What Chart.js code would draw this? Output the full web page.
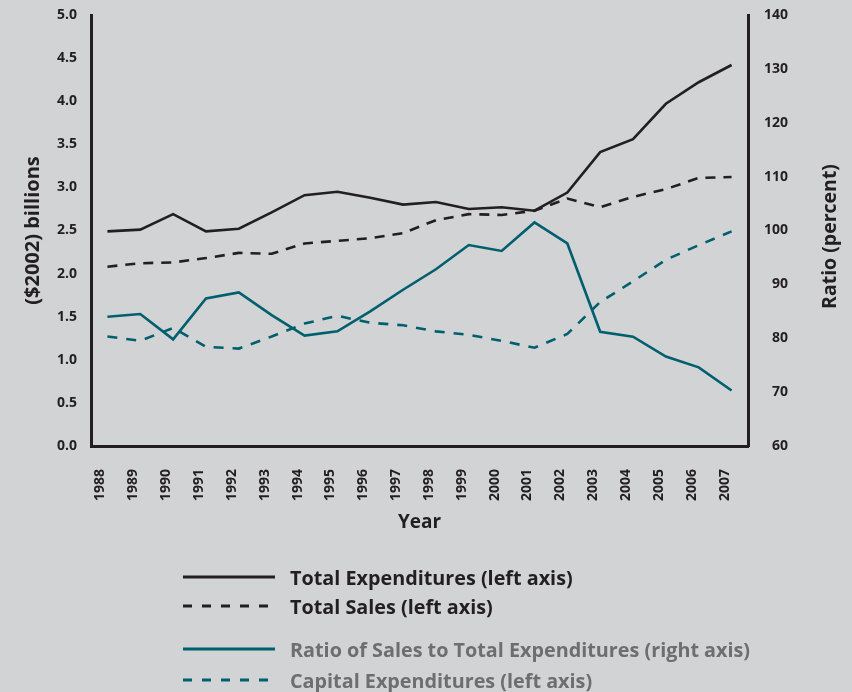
<!DOCTYPE html>
<html><head><meta charset="utf-8">
<script src="https://cdn.jsdelivr.net/npm/chart.js@4/dist/chart.umd.min.js"></script>
<style>
html,body{margin:0;padding:0;background:#d1d3d4;}
#wrap{position:relative;width:852px;height:692px;overflow:hidden;background:#d1d3d4;}
#c{position:absolute;left:0;top:0;}
#legend{position:absolute;left:0;top:0;width:852px;height:692px;pointer-events:none;}
.item{position:absolute;left:183px;height:28px;display:flex;align-items:center;font-family:'Open Sans',sans-serif;font-weight:700;font-size:19.8px;white-space:nowrap;}
.item svg{margin-right:15px;}
</style></head>
<body><div id="wrap"><canvas id="c" width="852" height="692"></canvas><div id="legend"></div></div>
<script>
const years = ['1988','1989','1990','1991','1992','1993','1994','1995','1996','1997','1998','1999','2000','2001','2002','2003','2004','2005','2006','2007'];
const totalExpenditures = [2.49,2.51,2.69,2.49,2.52,2.71,2.91,2.95,2.88,2.80,2.83,2.75,2.77,2.73,2.94,3.41,3.56,3.97,4.22,4.42];
const totalSales = [2.08,2.12,2.13,2.18,2.24,2.23,2.35,2.38,2.41,2.47,2.62,2.69,2.68,2.73,2.87,2.77,2.89,2.98,3.11,3.12];
const salesRatio = [84.0,84.5,79.8,87.4,88.5,84.3,80.5,81.3,85.0,89.0,92.8,97.3,96.2,101.5,97.6,81.2,80.3,76.6,74.6,70.3];
const capitalExpenditures = [1.27,1.22,1.37,1.15,1.13,1.27,1.42,1.51,1.43,1.40,1.33,1.29,1.22,1.14,1.30,1.67,1.91,2.16,2.33,2.49];
const leftTicks = [0,0.5,1,1.5,2,2.5,3,3.5,4,4.5,5];
const rightTicks = [60,70,80,90,100,110,120,130,140];
const seriesNames = ['Total Expenditures (left axis)','Total Sales (left axis)','Ratio of Sales to Total Expenditures (right axis)','Capital Expenditures (left axis)'];
const leftTitle = '($2002) billions';
const rightTitle = 'Ratio (percent)';
const xTitle = 'Year';

const DARK = '#231f20', TEAL = '#005f6e', GREY = '#6d6e71';
const FONT = "'Open Sans', sans-serif";
Chart.defaults.font.family = FONT;
Chart.defaults.font.weight = 'bold';
Chart.defaults.color = DARK;

const styles = [
  {color: DARK, dash: [], axis: 'y'},
  {color: DARK, dash: [10, 8], axis: 'y'},
  {color: TEAL, dash: [], axis: 'y1'},
  {color: TEAL, dash: [10, 9], axis: 'y'}
];
const seriesData = [totalExpenditures, totalSales, salesRatio, capitalExpenditures];

const rightTitlePlugin = {
  id: 'rightTitle',
  afterDraw(chart) {
    const ctx = chart.ctx, a = chart.chartArea;
    ctx.save();
    ctx.translate(830, (a.top + a.bottom) / 2 + 6);
    ctx.rotate(-Math.PI / 2);
    ctx.font = "bold 19.5px " + FONT;
    ctx.fillStyle = DARK;
    ctx.textAlign = 'center';
    ctx.textBaseline = 'middle';
    ctx.fillText(rightTitle, 0, 0);
    ctx.restore();
  }
};

function fitY(width) {
  return s => { s.width = width; s.paddingTop = 0; s.paddingBottom = 0; };
}

new Chart(document.getElementById('c'), {
  type: 'line',
  data: {
    labels: years,
    datasets: seriesData.map((d, i) => ({
      label: seriesNames[i],
      data: d,
      yAxisID: styles[i].axis,
      borderColor: styles[i].color,
      borderDash: styles[i].dash,
      borderWidth: 2.6,
      pointRadius: 0,
      tension: 0,
      fill: false
    }))
  },
  options: {
    responsive: false,
    animation: false,
    devicePixelRatio: 1,
    layout: {padding: {top: 15, left: 0, right: 64, bottom: 146}},
    plugins: {legend: {display: false}, tooltip: {enabled: false}},
    scales: {
      x: {
        type: 'category',
        offset: true,
        grid: {display: false},
        border: {display: true, color: DARK, width: 3},
        ticks: {maxRotation: 90, minRotation: 90, padding: 15, labelOffset: -7, autoSkip: false, font: {size: 14, weight: 'bold'}, color: DARK},
        title: {display: true, text: xTitle, font: {size: 19, weight: 'bold'}, color: DARK, padding: {top: 0, bottom: 12}},
        afterFit(s) { s.height = 100; s.paddingLeft = 0; s.paddingRight = 0; }
      },
      y: {
        position: 'left',
        min: 0, max: 5,
        afterBuildTicks(s) { s.ticks = leftTicks.map(v => ({value: v})); },
        grid: {display: false},
        border: {display: true, color: DARK, width: 3},
        ticks: {padding: 6, font: {size: 14, weight: 'bold'}, color: DARK, callback: v => v.toFixed(1)},
        title: {display: true, text: leftTitle, font: {size: 20, weight: 'bold'}, color: DARK, padding: {top: 21, bottom: 0}},
        afterFit: fitY(91)
      },
      y1: {
        position: 'right',
        min: 60, max: 140,
        afterBuildTicks(s) { s.ticks = rightTicks.map(v => ({value: v})); },
        grid: {display: false},
        border: {display: true, color: DARK, width: 3},
        ticks: {padding: 14, crossAlign: 'far', font: {size: 14, weight: 'bold'}, color: DARK},
        title: {display: false},
        afterFit: fitY(40)
      }
    }
  },
  plugins: [rightTitlePlugin]
});

// HTML legend
const rowsY = [577, 606, 649, 680];
const textColors = [DARK, DARK, GREY, GREY];
const legend = document.getElementById('legend');
seriesNames.forEach((name, i) => {
  const div = document.createElement('div');
  div.className = 'item';
  div.style.top = (rowsY[i] - 14) + 'px';
  div.style.color = textColors[i];
  const dash = styles[i].dash.length ? `stroke-dasharray="9 10"` : '';
  div.innerHTML = `<svg width="92" height="6"><line x1="0" y1="3" x2="92" y2="3" stroke="${styles[i].color}" stroke-width="2.8" ${dash}/></svg><span>${name}</span>`;
  legend.appendChild(div);
});
</script>
</body></html>
